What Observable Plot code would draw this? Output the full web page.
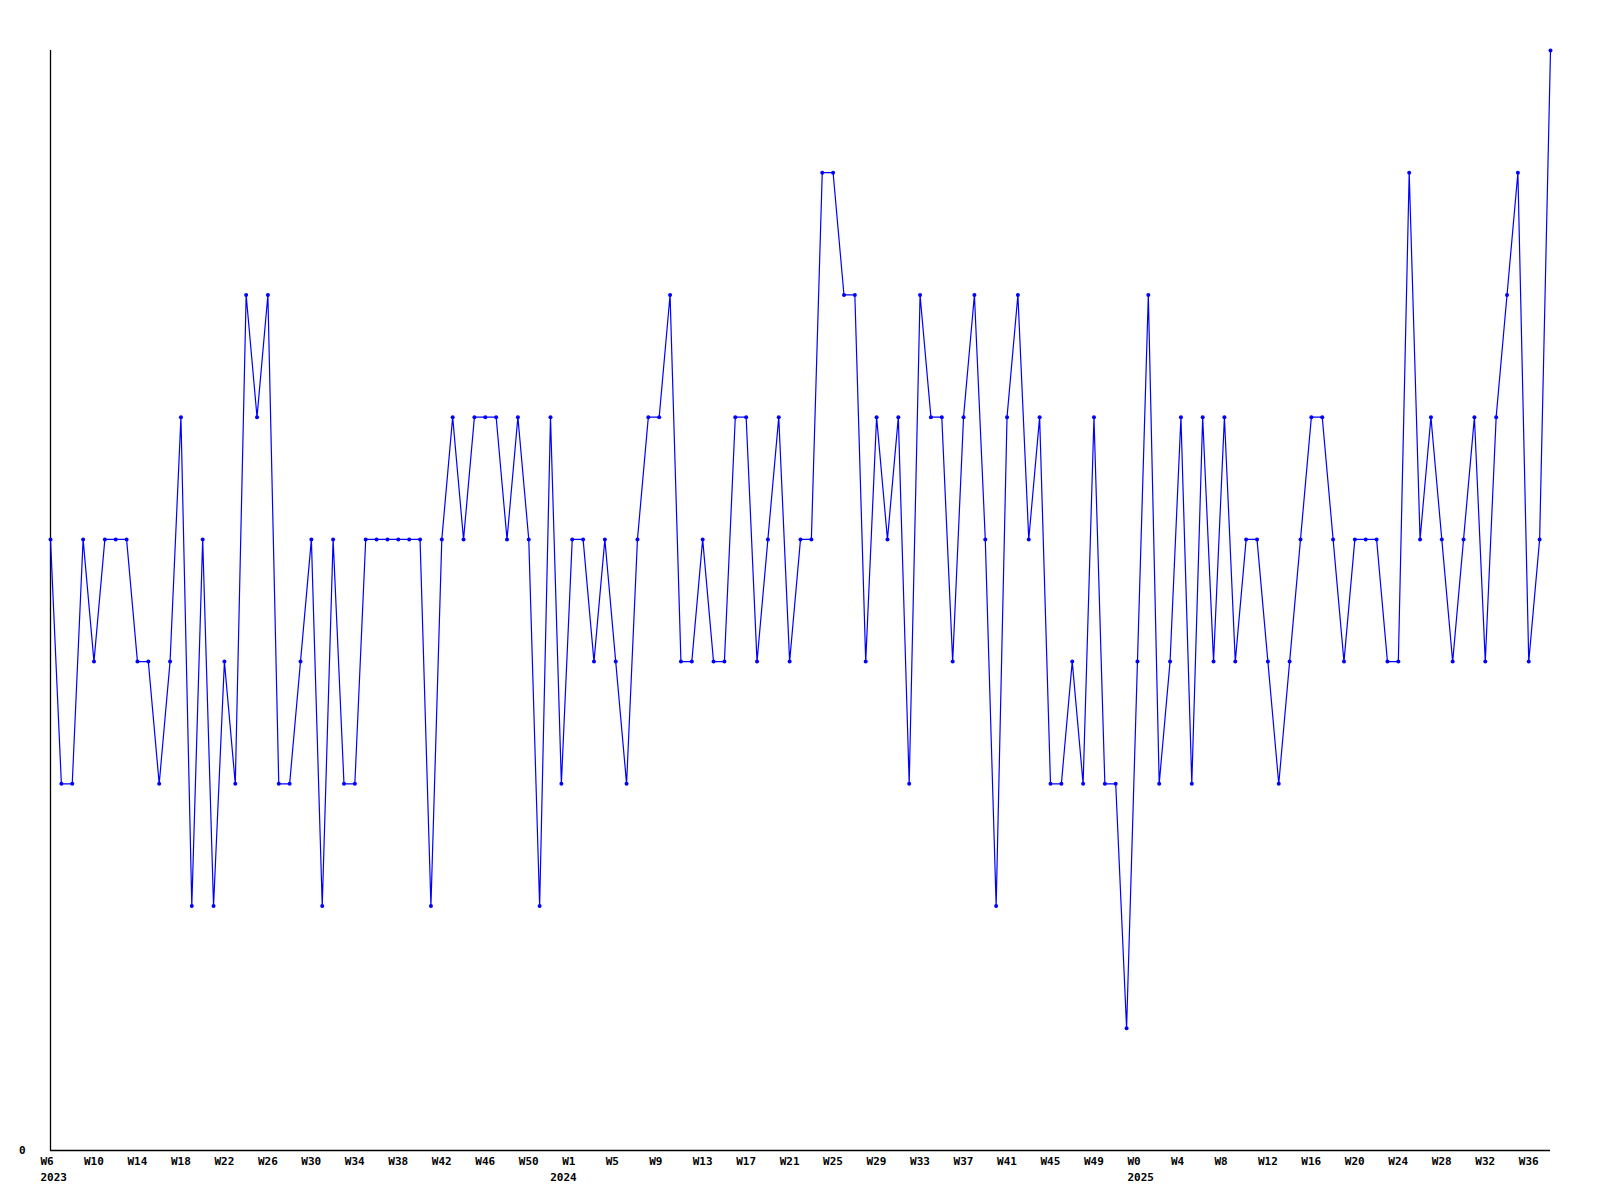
<!DOCTYPE html>
<html>
<head>
<meta charset="utf-8">
<script src="https://cdn.jsdelivr.net/npm/d3@7"></script>
<script src="https://cdn.jsdelivr.net/npm/@observablehq/plot@0.6"></script>
<style>
  html, body { margin: 0; padding: 0; background: #fff; }
</style>
</head>
<body>
<div id="chart"></div>
<script>
// Weekly values, starting 2023 W6 (one per week)
const values = [
  5,3,3,5,4,5,5,5,4,4,3,4,6,2,5,2,4,3,7,6,
  7,3,3,4,5,2,5,3,3,5,5,5,5,5,5,2,5,6,5,6,
  6,6,5,6,5,2,6,3,5,5,4,5,4,3,5,6,6,7,4,4,
  5,4,4,6,6,4,5,6,4,5,5,8,8,7,7,4,6,5,6,3,
  7,6,6,4,6,7,5,2,6,7,5,6,3,3,4,3,6,3,3,1,
  4,7,3,4,6,3,6,4,6,4,5,5,4,3,4,5,6,6,5,4,
  5,5,5,4,4,8,5,6,5,4,5,6,4,6,7,8,4,5,9
];
// Tick positions (week index from start) and their labels
const tickIndex = [0,4,8,12,16,20,24,28,32,36,40,44,48,52,56,60,64,68,72,76,80,84,88,92,96,100,104,108,112,116,120,124,128,132,136];
const tickWeek = ["W6","W10","W14","W18","W22","W26","W30","W34","W38","W42","W46","W50","W1","W5","W9","W13","W17","W21","W25","W29","W33","W37","W41","W45","W49","W0","W4","W8","W12","W16","W20","W24","W28","W32","W36"];
const yearIndex = [0, 48, 100];
const yearLabel = ["2023", "2024", "2025"];

const data = values.map((v, i) => ({i, v}));
const weekOf = new Map(tickIndex.map((t, k) => [t, tickWeek[k]]));
const years = yearIndex.map((t, k) => ({i: t, label: yearLabel[k]}));

const txt = {fontSize: 11, fontWeight: "bold", fill: "#000", textAnchor: "start", lineAnchor: "middle", frameAnchor: "bottom", dy: 27};

const chart = Plot.plot({
  width: 1600,
  height: 1200,
  marginLeft: 50,
  marginRight: 50,
  marginTop: 50,
  marginBottom: 50,
  style: {fontFamily: "'DejaVu Sans Mono', monospace", fontSize: "11px", fontWeight: "bold", color: "#000", background: "#fff"},
  x: {domain: [0, values.length - 1], label: null},
  y: {domain: [0, 9], label: null},
  marks: [
    Plot.axisX({ticks: tickIndex, tickFormat: d => weekOf.get(d), tickSize: 0, tickPadding: 7, fontSize: 11, fontWeight: "bold", textAnchor: "start", dx: -10, label: null}),
    Plot.text(years.filter(d => d.label !== "2024"), {x: "i", text: "label", ...txt, dx: -10}),
    Plot.text(years.filter(d => d.label === "2024"), {x: "i", text: "label", ...txt, dx: -22}),
    Plot.axisY({ticks: [0], tickFormat: d => String(d), tickSize: 0, tickPadding: 25, fontSize: 11, fontWeight: "bold", label: null}),
    Plot.ruleY([0], {stroke: "#000", strokeWidth: 1.3}),
    Plot.ruleX([0], {stroke: "#000", strokeWidth: 1.3}),
    Plot.line(data, {x: "i", y: "v", stroke: "#0000ff", strokeWidth: 1.2}),
    Plot.dot(data, {x: "i", y: "v", r: 2, fill: "#0000ff", stroke: "none"})
  ]
});
document.getElementById("chart").appendChild(chart);
</script>
</body>
</html>
